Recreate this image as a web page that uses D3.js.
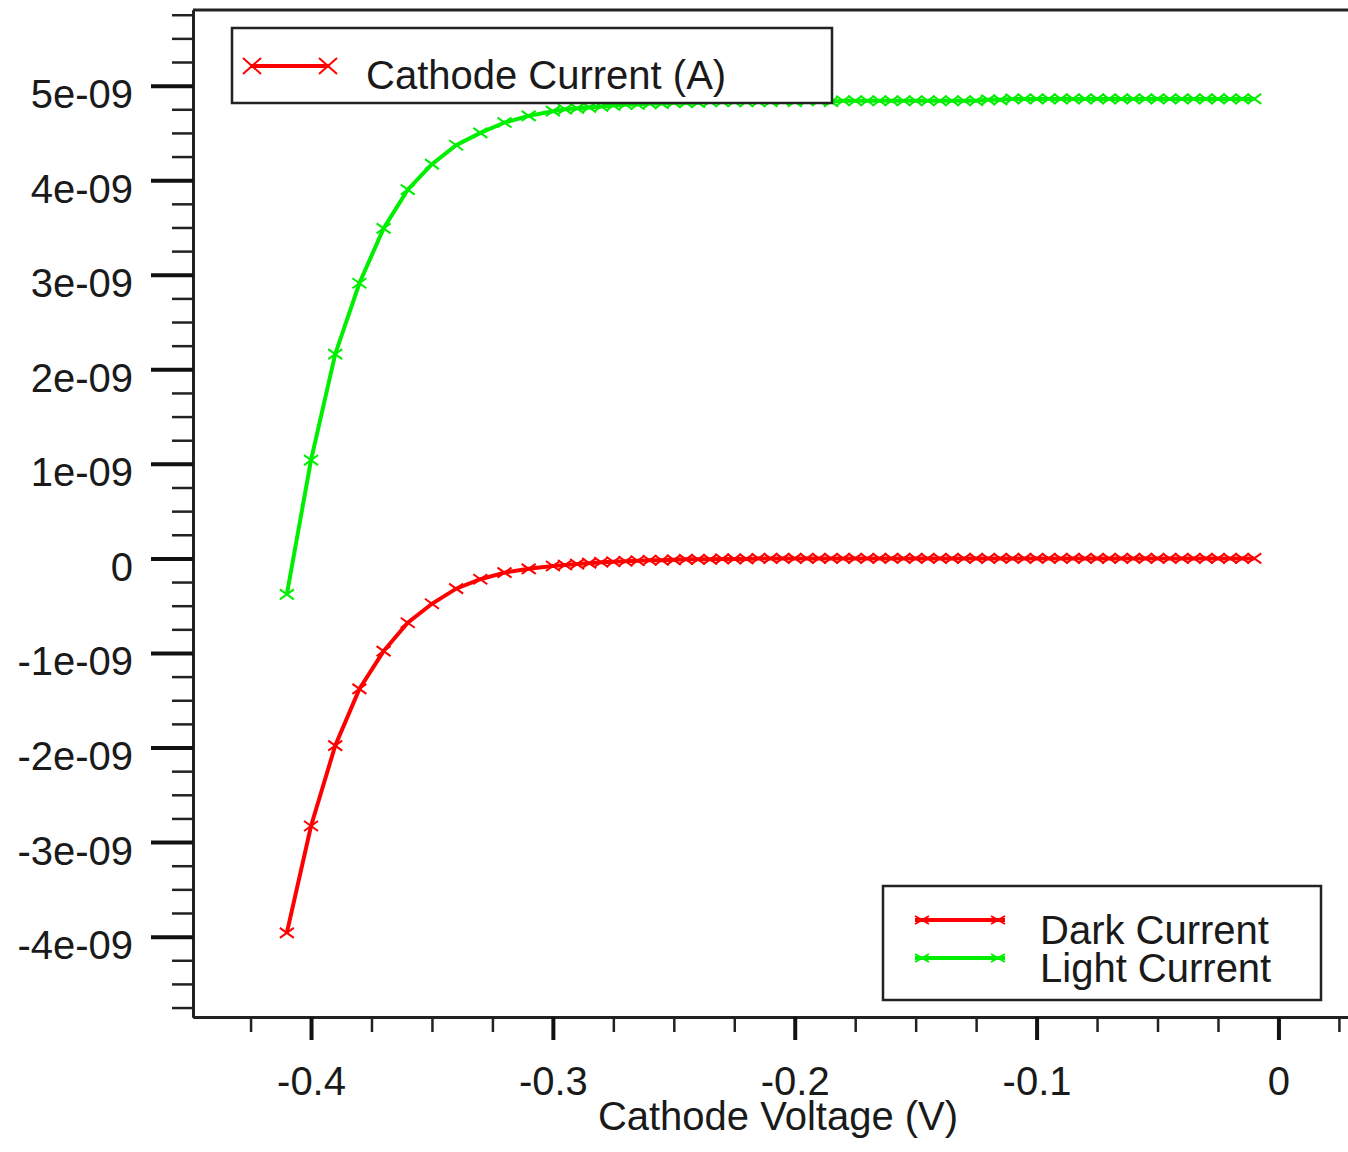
<!DOCTYPE html>
<html>
<head>
<meta charset="utf-8">
<script src="https://cdn.jsdelivr.net/npm/d3@7"></script>
<style>
  body { margin: 0; background: #fff; }
  text { font-family: "Liberation Sans", Arial, sans-serif; fill: #1a1a1a; }
</style>
</head>
<body>
<script>

var w = 1348;
var h = 1152;

// cathode voltage (V)
var voltage = [-0.41, -0.40, -0.39, -0.38, -0.37, -0.36, -0.35, -0.34, -0.33, -0.32, -0.31, -0.30,
  -0.295, -0.29, -0.285, -0.28, -0.275, -0.27, -0.265, -0.26, -0.255, -0.25,
  -0.245, -0.24, -0.235, -0.23, -0.225, -0.22, -0.215, -0.21, -0.205, -0.20,
  -0.195, -0.19, -0.185, -0.18, -0.175, -0.17, -0.165, -0.16, -0.155, -0.15,
  -0.145, -0.14, -0.135, -0.13, -0.125, -0.12, -0.115, -0.11, -0.105, -0.10,
  -0.095, -0.09, -0.085, -0.08, -0.075, -0.07, -0.065, -0.06, -0.055, -0.05,
  -0.045, -0.04, -0.035, -0.03, -0.025, -0.02, -0.015, -0.01];

// currents in units of 1e-9 A
var darkCurrent = [-3.96, -2.83, -1.98, -1.38, -0.98, -0.68, -0.48, -0.32, -0.22, -0.15, -0.11, -0.08,
  -0.07, -0.06, -0.05, -0.04, -0.035, -0.03, -0.025, -0.02, -0.02, -0.015,
  -0.01, -0.01, -0.01, -0.005, -0.005, -0.005, 0, 0, 0, 0,
  0, 0, 0, 0, 0, 0, 0, 0, 0, 0,
  0, 0, 0, 0, 0, 0, 0, 0, 0, 0,
  0, 0, 0, 0, 0, 0, 0, 0, 0, 0,
  0, 0, 0, 0, 0, 0, 0, 0];

var lightCurrent = [-0.38, 1.04, 2.16, 2.91, 3.49, 3.90, 4.17, 4.37, 4.50, 4.61, 4.68, 4.73,
  4.75, 4.76, 4.77, 4.78, 4.79, 4.80, 4.80, 4.81, 4.81, 4.82,
  4.82, 4.82, 4.83, 4.83, 4.83, 4.83, 4.83, 4.83, 4.84, 4.83,
  4.84, 4.84, 4.83, 4.84, 4.84, 4.84, 4.84, 4.84, 4.84, 4.84,
  4.84, 4.84, 4.84, 4.84, 4.84, 4.85, 4.85, 4.86, 4.86, 4.86,
  4.86, 4.86, 4.86, 4.86, 4.86, 4.86, 4.86, 4.86, 4.86, 4.86,
  4.86, 4.86, 4.86, 4.86, 4.86, 4.86, 4.86, 4.86];

var xMajor = [-0.4, -0.3, -0.2, -0.1, 0];
var xMinor = [-0.425, -0.375, -0.35, -0.325, -0.275, -0.25, -0.225, -0.175, -0.15, -0.125,
  -0.075, -0.05, -0.025, 0.025];
var yMajor = [-4, -3, -2, -1, 0, 1, 2, 3, 4, 5];
var yMinor = [-4.75, -4.5, -4.25, -3.75, -3.5, -3.25, -2.75, -2.5, -2.25, -1.75, -1.5, -1.25,
  -0.75, -0.5, -0.25, 0.25, 0.5, 0.75, 1.25, 1.5, 1.75, 2.25, 2.5, 2.75,
  3.25, 3.5, 3.75, 4.25, 4.5, 4.75, 5.25, 5.5, 5.75];

var seriesNames = ["Dark Current", "Light Current"];
var seriesColors = ["#ff0000", "#00ee00"];

var svg = d3.select("body")
        .append("svg")
        .attr("width", w)
        .attr("height", h);

var plotLeft = 193, plotTop = 10, plotBottom = 1017;

var x = d3.scaleLinear().domain([-0.4488, 0.03]).range([plotLeft, 1351]);
var y = d3.scaleLinear().domain([-4.85, 5.8]).range([plotBottom, plotTop]);

// frame top line
svg.append("line")
    .attr("x1", plotLeft).attr("x2", w)
    .attr("y1", plotTop).attr("y2", plotTop)
    .attr("stroke", "#222").attr("stroke-width", 3);

// y axis
var yMin = svg.append("g")
    .attr("transform", "translate(" + plotLeft + ",0)")
    .call(d3.axisLeft(y).tickValues(yMinor).tickSize(21).tickSizeOuter(0).tickFormat(""));
var yMaj = svg.append("g")
    .attr("transform", "translate(" + plotLeft + ",0)")
    .call(d3.axisLeft(y).tickValues(yMajor).tickSize(42).tickSizeOuter(0).tickPadding(18)
        .tickFormat(function(d) { return d === 0 ? "0" : d + "e-09"; }));

// x axis
var xMin = svg.append("g")
    .attr("transform", "translate(0," + plotBottom + ")")
    .call(d3.axisBottom(x).tickValues(xMinor).tickSize(15).tickSizeOuter(0).tickFormat(""));
var xMaj = svg.append("g")
    .attr("transform", "translate(0," + plotBottom + ")")
    .call(d3.axisBottom(x).tickValues(xMajor).tickSize(23).tickSizeOuter(0).tickPadding(27)
        .tickFormat(function(d) { return d === 0 ? "0" : d.toFixed(1); }));

svg.selectAll(".domain").attr("stroke", "#222").attr("stroke-width", 3);
yMin.selectAll(".tick line").attr("stroke", "#222").attr("stroke-width", 2.5);
xMin.selectAll(".tick line").attr("stroke", "#222").attr("stroke-width", 2.5);
yMaj.selectAll(".tick line").attr("stroke", "#111").attr("stroke-width", 4);
xMaj.selectAll(".tick line").attr("stroke", "#111").attr("stroke-width", 4);
svg.selectAll(".tick text")
    .attr("font-size", 40)
    .attr("fill", "#1a1a1a")
    .style("font-family", "'Liberation Sans', Arial, sans-serif");
yMaj.selectAll(".tick text").attr("dy", "0.55em").attr("x", -60);
xMaj.selectAll(".tick text").attr("dy", "0.71em");

// axis title
svg.append("text")
    .attr("x", 778).attr("y", 1130)
    .attr("text-anchor", "middle")
    .attr("font-size", 40)
    .text("Cathode Voltage (V)");

// series
var series = [darkCurrent, lightCurrent];

var line = d3.line()
    .x(function(d) { return x(d[0]); })
    .y(function(d) { return y(d[1]); });

function crossPath(cx, cy, hw, hh) {
  return "M" + (cx - hw) + "," + (cy - hh) + "L" + (cx + hw) + "," + (cy + hh) +
         "M" + (cx - hw) + "," + (cy + hh) + "L" + (cx + hw) + "," + (cy - hh);
}

series.forEach(function(vals, i) {
  var pts = voltage.map(function(v, j) { return [v, vals[j]]; });
  var g = svg.append("g");
  g.append("path")
    .attr("d", line(pts))
    .attr("fill", "none")
    .attr("stroke", seriesColors[i])
    .attr("stroke-width", 4);
  g.selectAll("path.mark")
    .data(pts)
    .enter()
    .append("path")
    .attr("class", "mark")
    .attr("d", function(d) { return crossPath(x(d[0]), y(d[1]), 7, 5); })
    .attr("stroke", seriesColors[i])
    .attr("stroke-width", 2)
    .attr("fill", "none");
});

// legend: quantity
svg.append("rect")
    .attr("x", 232).attr("y", 28).attr("width", 600).attr("height", 75)
    .attr("fill", "#fff").attr("stroke", "#222").attr("stroke-width", 2.5);
svg.append("line")
    .attr("x1", 250).attr("x2", 330).attr("y1", 66).attr("y2", 66)
    .attr("stroke", "#ff0000").attr("stroke-width", 4);
[252, 328].forEach(function(cx) {
  svg.append("path")
    .attr("d", crossPath(cx, 66, 9, 8))
    .attr("stroke", "#ff0000").attr("stroke-width", 2).attr("fill", "none");
});
svg.append("text")
    .attr("x", 366).attr("y", 89)
    .attr("font-size", 40)
    .text("Cathode Current (A)");

// legend: series
svg.append("rect")
    .attr("x", 883).attr("y", 886).attr("width", 438).attr("height", 114)
    .attr("fill", "#fff").attr("stroke", "#222").attr("stroke-width", 2.5);
seriesNames.forEach(function(name, i) {
  var ly = 920 + i * 38;
  svg.append("line")
    .attr("x1", 915).attr("x2", 1005).attr("y1", ly).attr("y2", ly)
    .attr("stroke", seriesColors[i]).attr("stroke-width", 4);
  [922, 998].forEach(function(cx) {
    svg.append("path")
      .attr("d", crossPath(cx, ly, 7, 4))
      .attr("stroke", seriesColors[i]).attr("stroke-width", 2).attr("fill", "none");
  });
  svg.append("text")
    .attr("x", 1040).attr("y", 944 + i * 38)
    .attr("font-size", 40)
    .text(name);
});

</script>
</body>
</html>
